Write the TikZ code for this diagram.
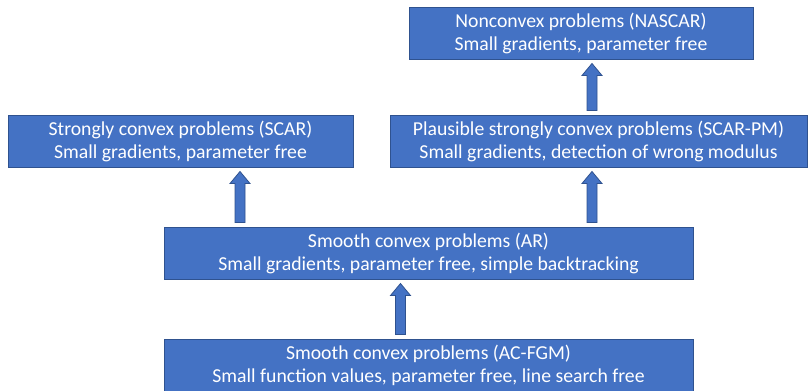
\documentclass[tikz,border=0pt]{standalone}
\usepackage{fontspec}
\setmainfont{Carlito}
\usetikzlibrary{calc}
\definecolor{boxfill}{HTML}{4472C4}
\definecolor{boxline}{HTML}{2F528F}
\tikzset{
  probbox/.style={draw=boxline, fill=boxfill, line width=0.75pt, text=white,
    align=center, inner sep=0pt, minimum height=39pt,
    font=\fontsize{14.8pt}{17.25pt}\selectfont},
  blockarrow/.style={draw=boxline, fill=boxfill, line width=0.6pt, line join=miter}
}
\newcommand\blockarr[3]{%
  \path let \p1=(#1.north), \p2=(#2.south) in
   [blockarrow] (#3*0.75pt-3.75pt, \y1+3pt) -- (#3*0.75pt+3.75pt,\y1+3pt)
   -- (#3*0.75pt+3.75pt, \y2-12pt) -- (#3*0.75pt+7.5pt, \y2-12pt)
   -- (#3*0.75pt, \y2-3pt) -- (#3*0.75pt-7.5pt,\y2-12pt)
   -- (#3*0.75pt-3.75pt,\y2-12pt) -- cycle;}
\begin{document}
\begin{tikzpicture}[x=0.75pt,y=-0.75pt]
\useasboundingbox (0,0) rectangle (808,390);
\node[probbox, minimum width=258pt] (nascar) at (581,33)
  {Nonconvex problems (NASCAR)\\Small gradients, parameter free};
\node[probbox, minimum width=312.75pt] (scarpm) at (598.5,141)
  {Plausible strongly convex problems (SCAR-PM)\\Small gradients, detection of wrong modulus};
\node[probbox, minimum width=258.75pt] (scar) at (180.5,141)
  {Strongly convex problems (SCAR)\\Small gradients, parameter free};
\node[probbox, minimum width=396.75pt] (ar) at (428.5,253)
  {Smooth convex problems (AR)\\Small gradients, parameter free, simple backtracking};
\node[probbox, minimum width=396.75pt] (acfgm) at (428.5,365)
  {Smooth convex problems (AC-FGM)\\Small function values, parameter free, line search free};
\blockarr{acfgm}{ar}{400.5}
\blockarr{ar}{scar}{240}
\blockarr{ar}{scarpm}{592}
\blockarr{scarpm}{nascar}{592}
\end{tikzpicture}
\end{document}
